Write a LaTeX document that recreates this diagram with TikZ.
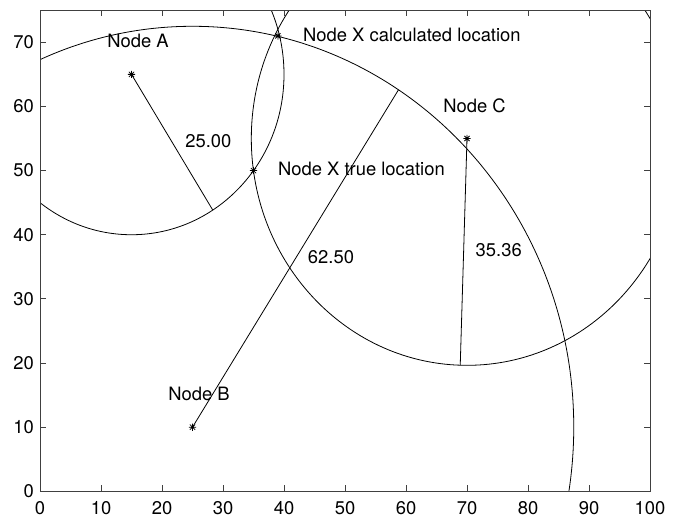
\documentclass[tikz,border=0pt]{standalone}
\usepackage{fontspec}
\setmainfont{TeX Gyre Heros}
\begin{document}
\begin{tikzpicture}[x=6.1pt,y=6.414pt,
  every node/.style={font=\fontsize{18.4}{20}\selectfont, inner sep=0pt},
  curve/.style={line width=0.8pt, black},
  radline/.style={line width=0.8pt, black},
  axisline/.style={draw=black!75, line width=0.9pt},
  lbl/.style={anchor=base west},
  ast/.pic={\draw[line width=0.8pt] (-3.6pt,0)--(3.6pt,0) (0,-3.6pt)--(0,3.6pt)
     (-2.6pt,-2.6pt)--(2.6pt,2.6pt) (-2.6pt,2.6pt)--(2.6pt,-2.6pt);}]
\useasboundingbox (-40pt,-25.7pt) rectangle (637pt,491.3pt);
\coordinate (A) at (15,65);
\coordinate (B) at (25,10);
\coordinate (C) at (70,55);
\coordinate (Xt) at (35,50);
\coordinate (Xc) at (39,71);
\path (A) ++(-57.8:25) coordinate (Ae);
\path (B) ++(57.3:62.5) coordinate (Be);
\path (C) ++(-91.8:35.36) coordinate (Ce);
\begin{scope}
  \clip (0,0) rectangle (100,75);
  \draw[curve] (A) ellipse [x radius=25, y radius=25];
  \draw[curve] (B) ellipse [x radius=62.5, y radius=62.5];
  \draw[curve] (C) ellipse [x radius=35.36, y radius=35.36];
\end{scope}
\draw[radline] (A) -- (Ae);
\draw[radline] (B) -- (Be);
\draw[radline] (C) -- (Ce);
\foreach \p in {A,B,C,Xt,Xc} \pic at (\p) {ast};
% labels
\node[lbl] (lA) at (11,69.2) {Node A};
\node[lbl] (lB) at (21,14.1) {Node B};
\node[lbl] (lC) at (66.1,59.1) {Node C};
\node[lbl] (lXc) at (43.1,70.2) {Node X calculated location};
\node[lbl] (lXt) at (39,49.2) {Node X true location};
\node[lbl] (rA) at (23.8,53.6) {25.00};
\node[lbl] (rB) at (43.9,35.55) {62.50};
\node[lbl] (rC) at (71.4,36.6) {35.36};
% axes
\draw[axisline] (0,0) rectangle (100,75);
\foreach \x in {0,10,...,100} {
  \draw[axisline] (\x,0) -- ++(0,6pt);
  \draw[axisline] (\x,75) -- ++(0,-6pt);
  \node[anchor=north] (xt\x) at ([yshift=-9.5pt]\x,0) {\x};
}
\foreach \y in {0,10,...,70} {
  \draw[axisline] (0,\y) -- ++(6pt,0);
  \draw[axisline] (100,\y) -- ++(-6pt,0);
  \node[anchor=east] (yt\y) at ([xshift=-6pt]0,\y) {\y};
}
\end{tikzpicture}
\end{document}
